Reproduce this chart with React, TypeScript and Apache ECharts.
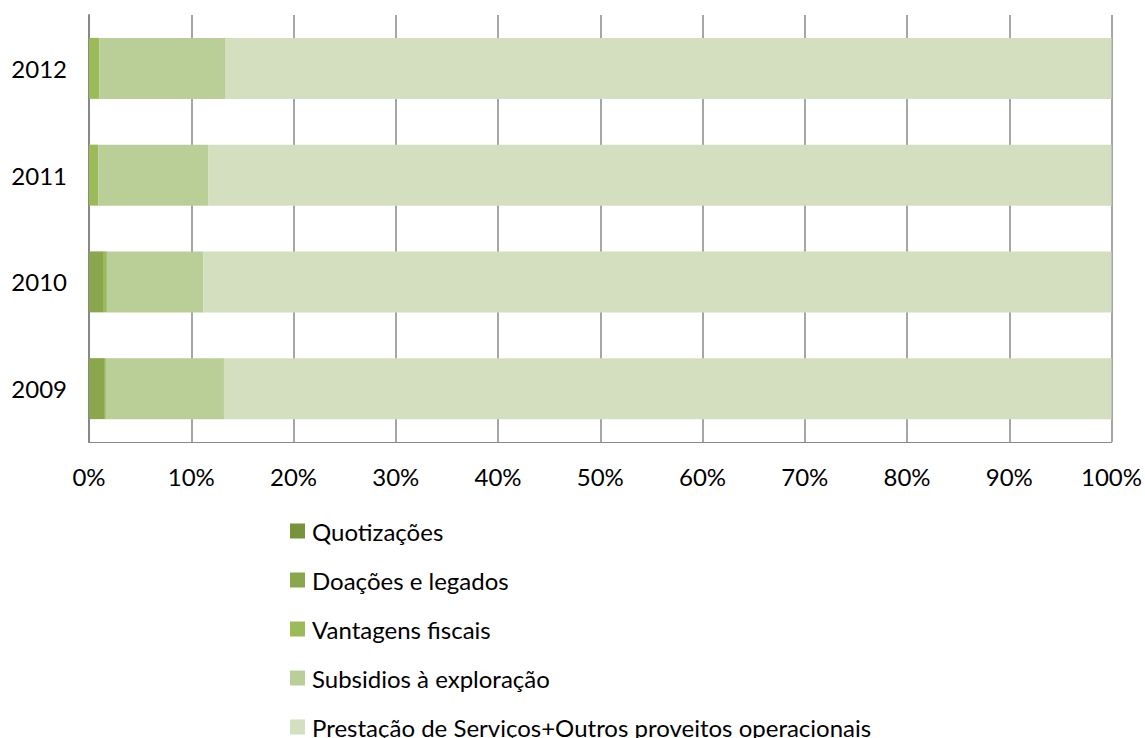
import React, { useEffect, useRef } from "react";
import * as echarts from "echarts";

const years = ["2009", "2010", "2011", "2012"];
const quotizacoes = [0, 0, 0, 0];
const doacoes = [1.55, 1.45, 0, 0];
const vantagens = [0.1, 0.3, 0.9, 1.0];
const subsidios = [11.55, 9.45, 10.75, 12.3];
const prestacao = [86.8, 88.8, 88.35, 86.7];

const seriesNames = [
  "Quotizações",
  "Doações e legados",
  "Vantagens fiscais",
  "Subsidios à exploração",
  "Prestação de Serviços+Outros proveitos operacionais",
];
const seriesData = [quotizacoes, doacoes, vantagens, subsidios, prestacao];
const seriesColors = ["#77933C", "#8BA74E", "#9BBB59", "#BACE97", "#D3DFBF"];

const FONT = "Lato";
const FS = 24;

export default function App() {
  const ref = useRef<HTMLDivElement>(null);
  useEffect(() => {
    if (!ref.current) return;
    const chart = echarts.init(ref.current, undefined, { renderer: "svg" });
    chart.setOption({
      animation: false,
      backgroundColor: "#ffffff",
      textStyle: { fontFamily: FONT, fontSize: FS },
      grid: { left: 89, right: 32, top: 15, height: 427, containLabel: false },
      xAxis: {
        type: "value",
        min: 0,
        max: 100,
        interval: 10,
        axisLine: { show: true, lineStyle: { color: "#888888", width: 1 } },
        axisTick: { show: false },
        splitLine: { show: true, lineStyle: { color: "#888888", width: 1.5 } },
        axisLabel: {
          formatter: "{value}%",
          fontSize: FS,
          color: "#000000",
          margin: 22,
          fontFamily: FONT,
        },
      },
      yAxis: {
        type: "category",
        data: years,
        axisLine: { show: true, lineStyle: { color: "#888888", width: 2 } },
        axisTick: { show: false },
        axisLabel: { fontSize: FS, color: "#000000", margin: 22, fontFamily: FONT },
      },
      legend: {
        orient: "vertical",
        left: 290,
        top: 519,
        padding: 0,
        height: 240,
        itemWidth: 15,
        itemHeight: 15,
        itemGap: 25,
        icon: "rect",
        textStyle: { fontSize: FS, color: "#000000", fontFamily: FONT, padding: [0, 0, 0, 2] },
        data: seriesNames,
      },
      series: seriesNames.map((name, i) => ({
        name,
        type: "bar",
        stack: "total",
        barWidth: 61,
        data: seriesData[i],
        itemStyle: { color: seriesColors[i] },
      })),
    });
    return () => chart.dispose();
  }, []);
  return (
    <div
      ref={ref}
      style={{ position: "fixed", left: 0, top: 0, width: 1145, height: 738 }}
    />
  );
}
